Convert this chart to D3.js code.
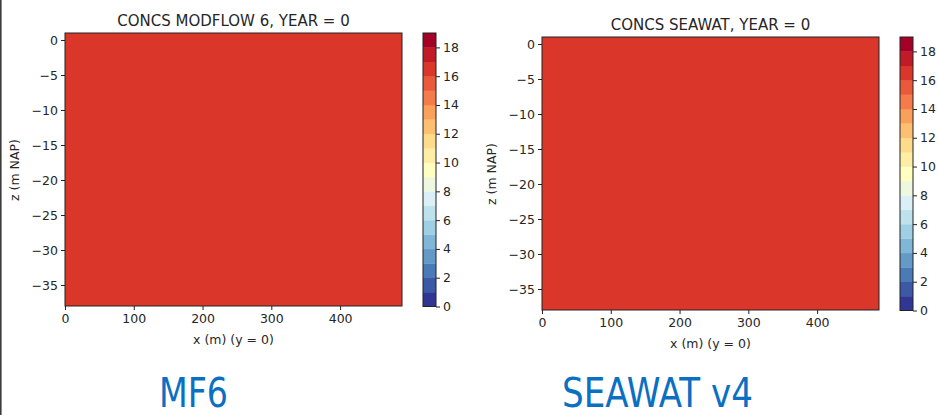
<!DOCTYPE html>
<html><head><meta charset="utf-8">
<script src="https://cdn.jsdelivr.net/npm/d3@7"></script>
<style>
body{margin:0;background:#fff}
svg{display:block}
text{font-family:"DejaVu Sans",sans-serif;fill:#262626}
</style>
</head><body><svg id="c" width="938" height="415"></svg>
<script>
// ---- data ----
const xEdges = [0, 490];           // column edges (m)
const zEdges = [1, -38];           // layer edges (m NAP)
const concMF6 = [[16.5]];          // concentration per layer/column
const concSeawat = [[16.5]];
const xTicks = [0, 100, 200, 300, 400];
const zTicks = [0, -5, -10, -15, -20, -25, -30, -35];
const levels = d3.range(0, 20);    // contour levels 0..19
const cbTicks = [0, 2, 4, 6, 8, 10, 12, 14, 16, 18];
const titles = ["CONCS MODFLOW 6, YEAR = 0", "CONCS SEAWAT, YEAR = 0"];
const bigLabels = ["MF6", "SEAWAT v4"];
const xLabel = "x (m) (y = 0)";
const zLabel = "z (m NAP)";

// ---- colours (RdYlBu_r, band colours like contourf) ----
const pw = d3.piecewise(d3.interpolateRgb, d3.schemeRdYlBu[11]);
const nb = levels.length - 1;
const bandColors = d3.range(nb).map(i => pw(1 - i / (nb - 1)));
const color = d3.scaleThreshold().domain(levels.slice(1, -1)).range(bandColors);

const svg = d3.select("#c");
svg.append("rect").attr("width", 938).attr("height", 415).attr("fill", "#fff");
svg.append("rect").attr("x", 0).attr("y", 0).attr("width", 1.6).attr("height", 415).attr("fill", "#3c3c3c");

const panels = [
  {ox: 0, oy: 0, data: concMF6, title: titles[0], big: bigLabels[0], bigX: 159, bigW: 69},
  {ox: 477, oy: 4, data: concSeawat, title: titles[1], big: bigLabels[1], bigX: 562, bigW: 191}
];

panels.forEach(p => {
  const g = svg.append("g").attr("transform", `translate(${p.ox},${p.oy})`);
  const x = d3.scaleLinear().domain([xEdges[0], xEdges[xEdges.length - 1]]).range([65, 402]);
  const y = d3.scaleLinear().domain([zEdges[zEdges.length - 1], zEdges[0]]).range([306, 33]);

  // cells
  p.data.forEach((row, j) => row.forEach((v, i) => {
    g.append("rect")
      .attr("x", x(xEdges[i])).attr("y", y(zEdges[j]))
      .attr("width", x(xEdges[i + 1]) - x(xEdges[i]))
      .attr("height", y(zEdges[j + 1]) - y(zEdges[j]))
      .attr("fill", color(v));
  }));
  g.append("rect").attr("x", 65).attr("y", 33).attr("width", 337).attr("height", 273)
    .attr("fill", "none").attr("stroke", "#222").attr("stroke-width", 1);

  const fmt = d3.format("d");
  const xa = g.append("g").attr("transform", "translate(0,306)")
    .call(d3.axisBottom(x).tickValues(xTicks).tickFormat(fmt).tickSize(4).tickPadding(4));
  const ya = g.append("g").attr("transform", "translate(65,0)")
    .call(d3.axisLeft(y).tickValues(zTicks).tickFormat(fmt).tickSize(4).tickPadding(3));
  [xa, ya].forEach(a => {
    a.select(".domain").remove();
    a.selectAll("line").attr("stroke", "#222");
    a.selectAll("text").attr("font-size", 12.5).attr("font-family", "DejaVu Sans").attr("fill", "#262626");
  });

  g.append("text").attr("x", 233.5).attr("y", 26).attr("text-anchor", "middle")
    .attr("font-size", 15).text(p.title);
  g.append("text").attr("x", 233.5).attr("y", 343.5).attr("text-anchor", "middle")
    .attr("font-size", 12.5).text(xLabel);
  g.append("text").attr("transform", "translate(19,170) rotate(-90)").attr("text-anchor", "middle")
    .attr("font-size", 12.5).text(zLabel);

  // colorbar
  const cb = d3.scaleLinear().domain([levels[0], levels[levels.length - 1]]).range([306.5, 33]);
  d3.range(nb).forEach(i => {
    g.append("rect").attr("x", 423).attr("width", 13)
      .attr("y", cb(levels[i + 1])).attr("height", cb(levels[i]) - cb(levels[i + 1]) + 0.3)
      .attr("fill", bandColors[i]);
  });
  g.append("rect").attr("x", 423).attr("y", 33).attr("width", 13).attr("height", 273.5)
    .attr("fill", "none").attr("stroke", "#222").attr("stroke-width", 1);
  const ca = g.append("g").attr("transform", "translate(436,0)")
    .call(d3.axisRight(cb).tickValues(cbTicks).tickFormat(d3.format("d")).tickSize(4).tickPadding(3));
  ca.select(".domain").remove();
  ca.selectAll("line").attr("stroke", "#222");
  ca.selectAll("text").attr("font-size", 12.5).attr("font-family", "DejaVu Sans").attr("fill", "#262626");

  // big slide label
  svg.append("text").attr("x", p.bigX).attr("y", 407)
    .attr("font-family", "'Liberation Sans Narrow','DejaVu Sans Condensed',sans-serif")
    .attr("font-size", 40).attr("textLength", p.bigW).attr("lengthAdjust", "spacingAndGlyphs")
    .style("fill", "#0b70c2").text(p.big);
});
</script>
</body></html>
